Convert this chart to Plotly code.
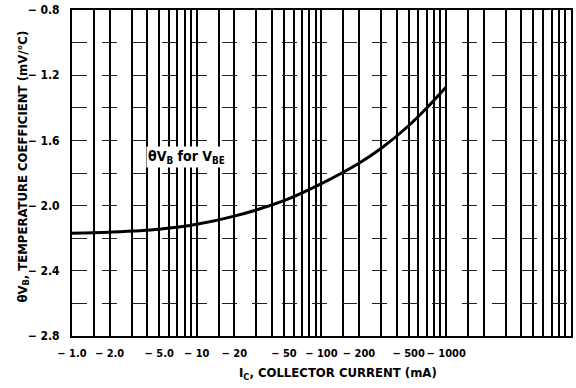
import math
import plotly.graph_objects as go

# ---- data ----
ic_ma = [1, 2, 5, 10, 20, 50, 100, 200, 300, 500, 700, 1000]
temp_coef = [-2.170, -2.163, -2.145, -2.115, -2.065, -1.970, -1.865, -1.740, -1.650, -1.510, -1.400, -1.272]

x_grid_mult = [1, 1.5, 2, 3, 4, 5, 6, 7, 8, 9]
x_decades = [1, 10, 100, 1000]
x_label_vals = [1, 2, 5, 10, 20, 50, 100, 200, 500, 1000]
x_label_text = ["− 1.0", "− 2.0", "− 5.0", "− 10", "− 20", "− 50", "− 100", "− 200", "− 500", "− 1000"]

y_grid_vals = [-2.8, -2.6, -2.4, -2.2, -2.0, -1.8, -1.6, -1.4, -1.2, -1.0, -0.8]
y_label_vals = [-2.8, -2.4, -2.0, -1.6, -1.2, -0.8]
y_label_text = ["− 2.8", "− 2.4", "− 2.0", "− 1.6", "− 1.2", "− 0.8"]

curve_label = "θV<sub>B</sub> for V<sub>BE</sub>"
label_pos = (3.9, -1.70)

FONT = "DejaVu Sans Condensed, Liberation Sans Narrow, Liberation Sans, sans-serif"

x_grid_vals = [d * m for d in x_decades for m in x_grid_mult] + [10000]

fig = go.Figure()
fig.add_trace(go.Scatter(
    x=ic_ma, y=temp_coef, mode="lines",
    line=dict(color="black", width=3, shape="spline", smoothing=1.0),
    hoverinfo="skip", showlegend=False,
))

fig.add_annotation(
    x=math.log10(label_pos[0]), y=label_pos[1], xref="x", yref="y",
    text=curve_label, showarrow=False, xanchor="left", yanchor="middle",
    font=dict(family=FONT, size=14, color="black", weight="bold"),
    bgcolor="white",
)

fig.add_annotation(
    x=0.533, y=0, xref="paper", yref="paper", yshift=-37,
    text="I<sub>C</sub>, COLLECTOR CURRENT (mA)", showarrow=False,
    xanchor="center", yanchor="middle",
    font=dict(family=FONT, size=13, color="black", weight="bold"),
)
fig.add_annotation(
    x=-0.098, y=0.52, xref="paper", yref="paper", textangle=-90,
    text="θV<sub>B</sub>, TEMPERATURE COEFFICIENT (mV/°C)", showarrow=False,
    xanchor="center", yanchor="middle",
    font=dict(family=FONT, size=13, color="black", weight="bold"),
)

fig.update_xaxes(
    type="log", range=[0, 4.001],
    tickmode="array", tickvals=x_label_vals, ticktext=x_label_text,
    tickangle=0, ticklabeloverflow="allow",
    showgrid=True, gridcolor="black", gridwidth=1.6,
    minor=dict(tickmode="array", tickvals=x_grid_vals, showgrid=True,
               gridcolor="black", gridwidth=1.6, ticks=""),
    showline=True, linecolor="black", linewidth=2, mirror=True,
    ticks="", ticklabelstandoff=6,
    tickfont=dict(family=FONT, size=11, color="black", weight="bold"),
    zeroline=False,
)
fig.update_yaxes(
    range=[-2.8005, -0.7995],
    tickmode="array", tickvals=y_label_vals, ticktext=y_label_text,
    ticklabeloverflow="allow",
    showgrid=True, gridcolor="#222", gridwidth=1.2, griddash="longdash",
    minor=dict(tickmode="array", tickvals=y_grid_vals, showgrid=True,
               gridcolor="#222", gridwidth=1.2, griddash="longdash", ticks=""),
    showline=True, linecolor="black", linewidth=2, mirror=True,
    ticks="", ticklabelstandoff=8,
    tickfont=dict(family=FONT, size=12, color="black", weight="bold"),
    zeroline=False,
)

fig.update_layout(
    width=576, height=388,
    margin=dict(l=72, r=3, t=6, b=52),
    paper_bgcolor="white", plot_bgcolor="white",
    font=dict(family=FONT, color="black"),
)

fig.write_html("out.html")
